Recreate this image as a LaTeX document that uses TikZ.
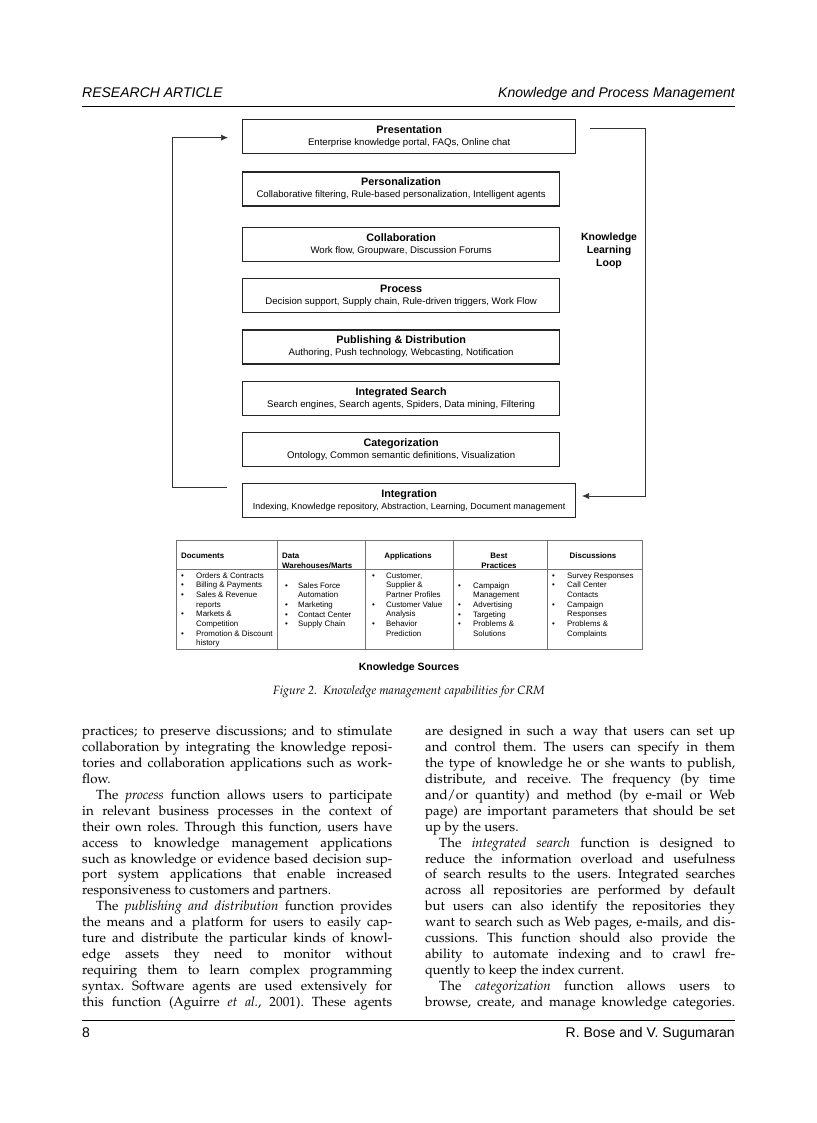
\documentclass[tikz,border=0pt]{standalone}
\usepackage[T1]{fontenc}
\usepackage{fontspec}
\setsansfont{Liberation Sans}
\usetikzlibrary{positioning,arrows.meta}

\newcommand\palfont{\fontencoding{T1}\fontfamily{ppl}\selectfont}
\newlength\colw
\setlength\colw{310pt}
\newcommand\fullln[1]{\makebox[\colw][s]{#1}}
\newcommand\lastln[1]{\makebox[\colw][l]{#1}}
\newcommand\layertext[2]{{\fontsize{10.8}{12}\selectfont\bfseries #1}\\#2}

\begin{document}
\begin{tikzpicture}[x=1pt, y=-1pt,
    layer/.style = {draw=black!85, line width=1.3pt, minimum height=34pt, inner sep=0pt, align=center, font=\sffamily\fontsize{9.6}{12}\selectfont},
    wide/.style = {layer, minimum width=333pt},
    narrow/.style = {layer, minimum width=317pt},
    loopline/.style = {draw=black!80, line width=0.7pt},
    tip/.style = {-{Latex[length=7pt,width=6pt]}},
    runhead/.style = {font=\sffamily\itshape\fontsize{14}{16}\selectfont, inner sep=0pt},
    runfoot/.style = {font=\sffamily\fontsize{14}{16}\selectfont, inner sep=0pt},
    srchead/.style = {font=\sffamily\bfseries\fontsize{7.9}{9.7}\selectfont, inner sep=0pt, align=center},
    srclist/.style = {font=\sffamily\fontsize{7.9}{9.7}\selectfont, inner sep=0pt, anchor=base west},
    srcline/.style = {draw=black!55, line width=0.6pt},
    bodycol/.style = {font=\palfont\fontsize{13.3}{15.9}\selectfont\frenchspacing, inner sep=0pt, align=left, anchor=north west}]

    \useasboundingbox (0,0) rectangle (816,1123);
    \fill[white] (0,0) rectangle (816,1123);

    % running head and foot
    \node[runhead, anchor=base west] (headL) at (82,98) {RESEARCH ARTICLE};
    \node[runhead, anchor=base east] (headR) at (735,98) {Knowledge and Process Management};
    \draw[line width=0.8pt] (82,106) -- (735,106);
    \draw[line width=0.8pt] (82,1020) -- (735,1020);
    \node[runfoot, anchor=base west] (footL) at (82,1037) {8};
    \node[runfoot, anchor=base east] (footR) at (735,1037) {R. Bose and V. Sugumaran};

    % capability layers
    \node[wide, anchor=north west] (pres) at (242,119) {\layertext{Presentation}{Enterprise knowledge portal, FAQs, Online chat}};
    \node[narrow, below=17pt of pres.south west, anchor=north west] (pers) {\layertext{Personalization}{Collaborative filtering, Rule-based personalization, Intelligent agents}};
    \node[narrow, below=20pt of pers.south west, anchor=north west] (collab) {\layertext{Collaboration}{Work flow, Groupware, Discussion Forums}};
    \node[narrow, below=16pt of collab.south west, anchor=north west] (proc) {\layertext{Process}{Decision support, Supply chain, Rule-driven triggers, Work Flow}};
    \node[narrow, below=16pt of proc.south west, anchor=north west] (publ) {\layertext{Publishing \& Distribution}{Authoring, Push technology, Webcasting, Notification}};
    \node[narrow, below=16pt of publ.south west, anchor=north west] (search) {\layertext{Integrated Search}{Search engines, Search agents, Spiders, Data mining, Filtering}};
    \node[narrow, below=16pt of search.south west, anchor=north west] (categ) {\layertext{Categorization}{Ontology, Common semantic definitions, Visualization}};
    \node[wide, below=16pt of categ.south west, anchor=north west] (integ) {\layertext{Integration}{\fontsize{8.9}{12}\selectfont Indexing, Knowledge repository, Abstraction, Learning, Document management}};

    \node[font=\sffamily\bfseries\fontsize{10.5}{13}\selectfont, align=center, inner sep=0pt] (looplabel) at (609,251) {Knowledge\\Learning\\Loop};

    % learning loops
    \coordinate (loopTop) at (590,128);
    \coordinate (loopEnd) at (582,496);
    \coordinate (backStart) at (227,487);
    \draw[loopline, tip] (loopTop) -- ++(55,0) |- (loopEnd);
    \draw[loopline, tip] (backStart) -- ++(-55,0) |- ([xshift=-14pt,yshift=-1pt]pres.west);

    % knowledge sources table
    \draw[srcline] (176,540) rectangle (642,649);
    \draw[srcline] (176,569) -- (642,569);
    \foreach \x in {277,365,453,547}
        \draw[srcline] (\x,540) -- (\x,649);

    \node[srchead, anchor=base west] (hdocs) at (181,558) {Documents};
    \node[srchead, anchor=north west, align=left] (hdw) at (282,553) {Data\\Warehouses/Marts};
    \node[srchead, anchor=base] (happs) at (408,558) {Applications};
    \node[srchead, anchor=north] (hbp) at (499,553) {Best\\Practices};
    \node[srchead, anchor=base] (hdisc) at (593,558) {Discussions};

    \node[srclist] (docs) at (181,578) {\begin{tabular}[t]{@{}p{15pt}@{}l@{}}
        \textbullet & Orders \& Contracts\\
        \textbullet & Billing \& Payments\\
        \textbullet & Sales \& Revenue\\
                    & reports\\
        \textbullet & Markets \&\\
                    & Competition\\
        \textbullet & Promotion \& Discount\\
                    & history
    \end{tabular}};
    \node[srclist] (dw) at (285,588) {\begin{tabular}[t]{@{}p{13pt}@{}l@{}}
        \textbullet & Sales Force\\
                    & Automation\\
        \textbullet & Marketing\\
        \textbullet & Contact Center\\
        \textbullet & Supply Chain
    \end{tabular}};
    \node[srclist] (apps) at (372,578) {\begin{tabular}[t]{@{}p{14pt}@{}l@{}}
        \textbullet & Customer,\\
                    & Supplier \&\\
                    & Partner Profiles\\
        \textbullet & Customer Value\\
                    & Analysis\\
        \textbullet & Behavior\\
                    & Prediction
    \end{tabular}};
    \node[srclist] (bp) at (458,588) {\begin{tabular}[t]{@{}p{15pt}@{}l@{}}
        \textbullet & Campaign\\
                    & Management\\
        \textbullet & Advertising\\
        \textbullet & Targeting\\
        \textbullet & Problems \&\\
                    & Solutions
    \end{tabular}};
    \node[srclist] (disc) at (552,578) {\begin{tabular}[t]{@{}p{15pt}@{}l@{}}
        \textbullet & Survey Responses\\
        \textbullet & Call Center\\
                    & Contacts\\
        \textbullet & Campaign\\
                    & Responses\\
        \textbullet & Problems \&\\
                    & Complaints
    \end{tabular}};

    \node[font=\sffamily\bfseries\fontsize{10.5}{12}\selectfont, inner sep=0pt] (srctitle) at (409,668) {Knowledge Sources};
    \node[font=\palfont\itshape\fontsize{12}{14}\selectfont, inner sep=0pt] (caption) at (409,692) {Figure 2.\ \ Knowledge management capabilities for CRM};

    % body text
    \node[bodycol] (leftcol) at (82,726) {%
        \fullln{practices; to preserve discussions; and to stimulate}\\
        \fullln{collaboration by integrating the knowledge reposi-}\\
        \fullln{tories and collaboration applications such as work-}\\
        \lastln{flow.}\\
        \fullln{\hspace*{14pt}The \emph{process} function allows users to participate}\\
        \fullln{in relevant business processes in the context of}\\
        \fullln{their own roles. Through this function, users have}\\
        \fullln{access to knowledge management applications}\\
        \fullln{such as knowledge or evidence based decision sup-}\\
        \fullln{port system applications that enable increased}\\
        \lastln{responsiveness to customers and partners.}\\
        \fullln{\hspace*{14pt}The \emph{publishing and distribution} function provides}\\
        \fullln{the means and a platform for users to easily cap-}\\
        \fullln{ture and distribute the particular kinds of knowl-}\\
        \fullln{edge assets they need to monitor without}\\
        \fullln{requiring them to learn complex programming}\\
        \fullln{syntax. Software agents are used extensively for}\\
        \fullln{this function (Aguirre \emph{et al.}, 2001). These agents}};
    \node[bodycol] (rightcol) at (425,726) {%
        \fullln{are designed in such a way that users can set up}\\
        \fullln{and control them. The users can specify in them}\\
        \fullln{the type of knowledge he or she wants to publish,}\\
        \fullln{distribute, and receive. The frequency (by time}\\
        \fullln{and/or quantity) and method (by e-mail or Web}\\
        \fullln{page) are important parameters that should be set}\\
        \lastln{up by the users.}\\
        \fullln{\hspace*{14pt}The \emph{integrated search} function is designed to}\\
        \fullln{reduce the information overload and usefulness}\\
        \fullln{of search results to the users. Integrated searches}\\
        \fullln{across all repositories are performed by default}\\
        \fullln{but users can also identify the repositories they}\\
        \fullln{want to search such as Web pages, e-mails, and dis-}\\
        \fullln{cussions. This function should also provide the}\\
        \fullln{ability to automate indexing and to crawl fre-}\\
        \lastln{quently to keep the index current.}\\
        \fullln{\hspace*{14pt}The \emph{categorization} function allows users to}\\
        \fullln{browse, create, and manage knowledge categories.}};
\end{tikzpicture}
\end{document}
